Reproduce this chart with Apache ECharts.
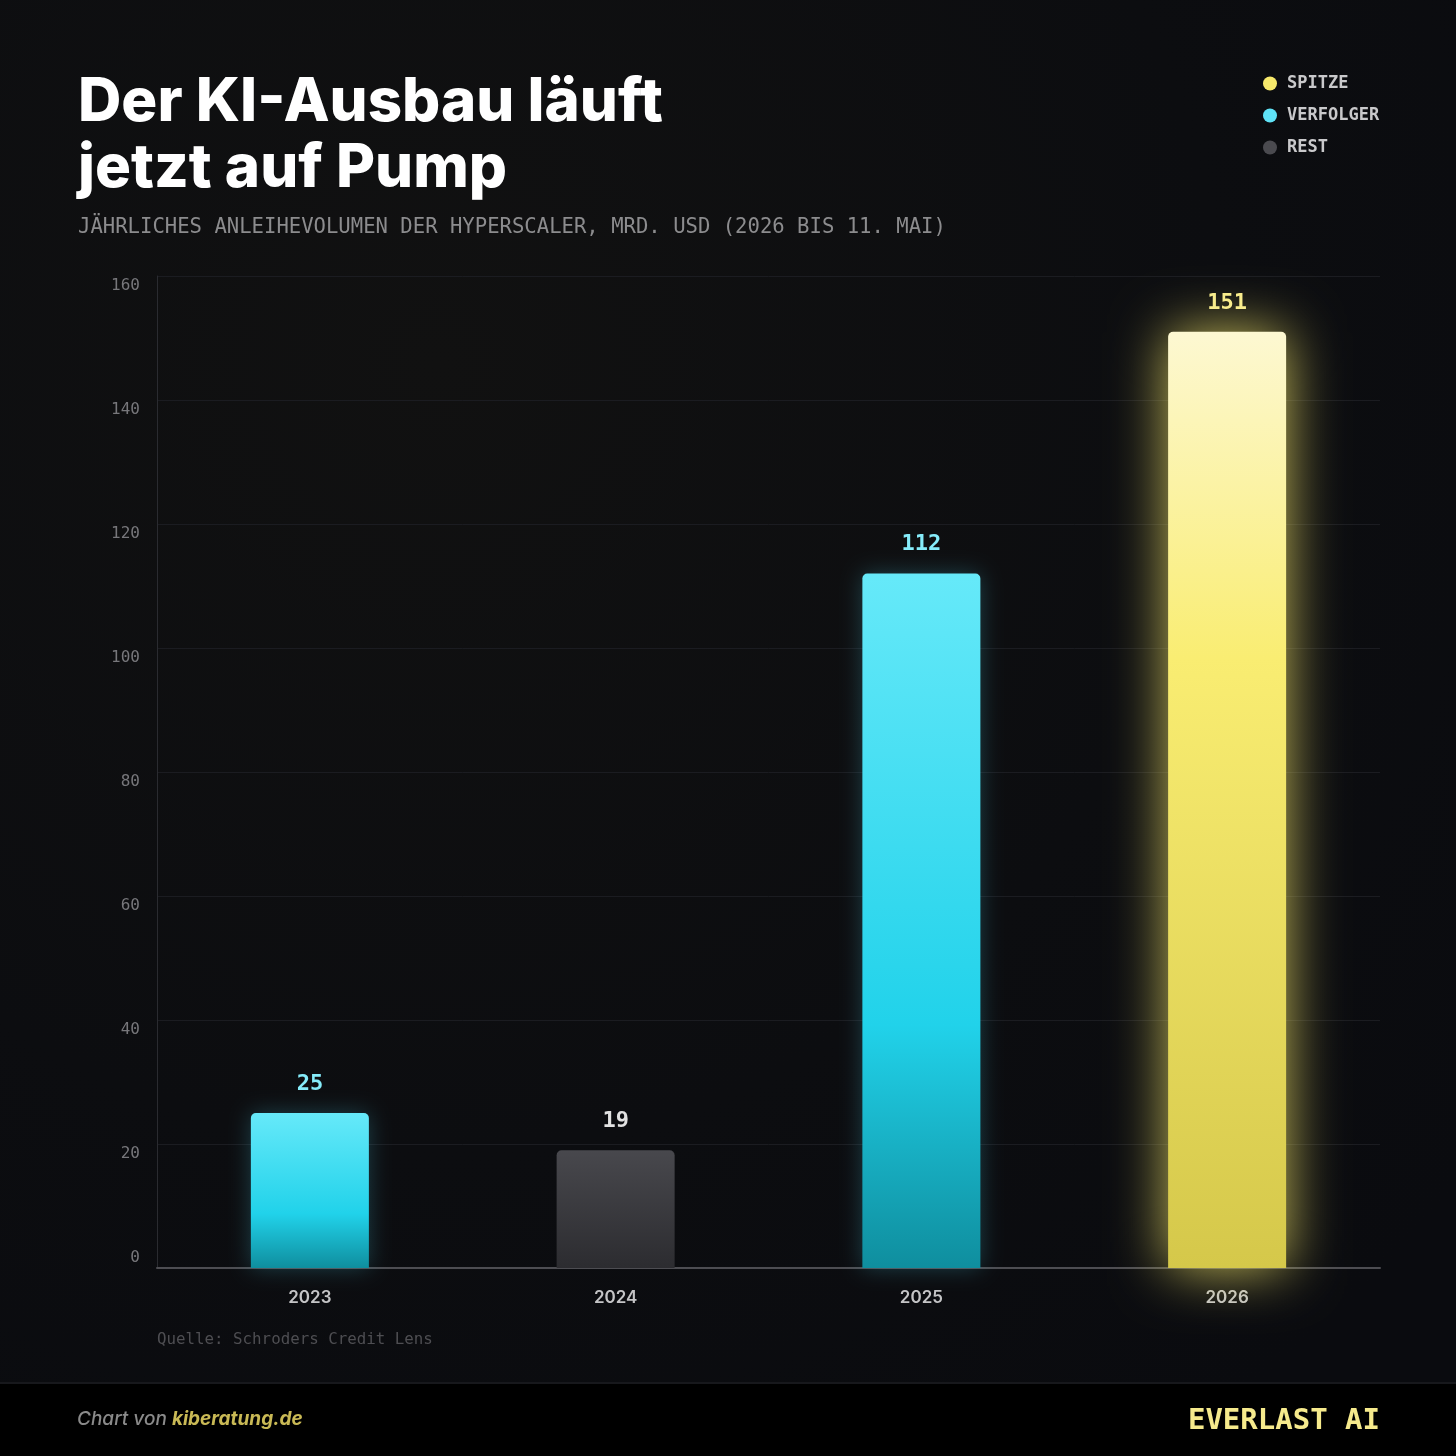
<!DOCTYPE html>
<html>
<head>
<meta charset="utf-8">
<script src="https://cdn.jsdelivr.net/npm/echarts@6/dist/echarts.min.js"></script>
<style>
  html, body { margin: 0; padding: 0; background: #0b0c10; }
  #box { width: 1456px; height: 1456px; }
</style>
</head>
<body>
<div id="box"></div>
<script>
// data
const years = ['2023', '2024', '2025', '2026'];
const values = [25, 19, 112, 151];
const groups = ['VERFOLGER', 'REST', 'VERFOLGER', 'SPITZE'];
const groupNames = ['SPITZE', 'VERFOLGER', 'REST'];
const yTicks = [0, 20, 40, 60, 80, 100, 120, 140, 160];

const mono = '"DejaVu Sans Mono", "Liberation Mono", monospace';
const sans = 'Inter, "Noto Sans", sans-serif';

const look = {
  SPITZE: {
    dot: '#f7e96b', label: '#f8ec8c',
    stops: [[0, '#fdf8d2'], [0.35, '#f9ed72'], [1, '#d5c84a']],
    glow: 'rgba(247,233,107,0.8)', blur: 55
  },
  VERFOLGER: {
    dot: '#5fe2f6', label: '#86ecfa',
    stops: [[0, '#66e9f9'], [0.65, '#21d2ea'], [1, '#0f8e9e']],
    glow: 'rgba(80,220,245,0.25)', blur: 22
  },
  REST: {
    dot: '#4a4a4f', label: '#e2e2e2',
    stops: [[0, '#48484d'], [1, '#2c2c30']],
    glow: 'rgba(0,0,0,0)', blur: 0
  }
};

const chartDom = document.getElementById('box');
const myChart = echarts.init(chartDom);

const series = groupNames.map(name => {
  const l = look[name];
  return {
    name: name,
    type: 'bar',
    barWidth: 118,
    barGap: '-100%',
    data: values.map((v, i) => groups[i] === name ? v : '-'),
    itemStyle: {
      borderRadius: [5, 5, 0, 0],
      color: new echarts.graphic.LinearGradient(0, 0, 0, 1,
        l.stops.map(s => ({ offset: s[0], color: s[1] }))),
      shadowBlur: l.blur,
      shadowColor: l.glow
    },
    label: {
      show: true,
      position: 'top',
      distance: 18,
      fontFamily: mono,
      fontWeight: 'bold',
      fontSize: 22,
      color: l.label
    }
  };
});

const option = {
  backgroundColor: {
    type: 'radial', x: 0.3, y: 0.25, r: 0.9,
    colorStops: [
      { offset: 0, color: '#111111' },
      { offset: 0.6, color: '#0c0d10' },
      { offset: 1, color: '#0a0b0f' }
    ]
  },
  animation: false,
  title: {
    left: 73,
    top: 65,
    text: 'Der KI-Ausbau läuft\njetzt auf Pump',
    textStyle: {
      fontFamily: sans,
      fontWeight: 800,
      fontSize: 60,
      lineHeight: 66,
      color: '#ffffff'
    },
    subtext: 'JÄHRLICHES ANLEIHEVOLUMEN DER HYPERSCALER, MRD. USD (2026 BIS 11. MAI)',
    subtextStyle: {
      fontFamily: mono,
      fontSize: 20.6,
      lineHeight: 22,
      color: '#8c8c8e'
    },
    itemGap: 15
  },
  legend: {
    orient: 'vertical',
    left: 1258,
    top: 70,
    icon: 'circle',
    itemWidth: 14,
    itemHeight: 14,
    itemGap: 15,
    textStyle: {
      fontFamily: mono,
      fontWeight: 'bold',
      fontSize: 17,
      color: '#c9c9cb',
      padding: [0, 0, 0, 5]
    },
    data: groupNames.map(n => ({ name: n, itemStyle: { color: look[n].dot } }))
  },
  grid: {
    left: 157,
    right: 76,
    top: 276,
    bottom: 188
  },
  xAxis: {
    type: 'category',
    data: years,
    axisLine: { lineStyle: { color: '#4d4d52', width: 2 } },
    axisTick: { show: false },
    axisLabel: {
      margin: 21,
      fontFamily: sans,
      fontWeight: 600,
      fontSize: 17,
      color: '#c4c4c6'
    }
  },
  yAxis: {
    type: 'value',
    min: yTicks[0],
    max: yTicks[yTicks.length - 1],
    interval: 20,
    axisLine: { show: true, lineStyle: { color: '#2a2b30', width: 1 } },
    axisTick: { show: false },
    axisLabel: {
      margin: 17,
      formatter: v => v === 0 ? '{z|0}' : '{n|' + v + '}',
      rich: {
        n: { fontFamily: mono, fontSize: 16, color: '#77777b', padding: [20, 0, 0, 0] },
        z: { fontFamily: mono, fontSize: 16, color: '#77777b', padding: [0, 0, 20, 0] }
      }
    },
    splitLine: { lineStyle: { color: '#1b1c21', width: 1 } }
  },
  series: series,
  graphic: [
    {
      type: 'text',
      left: 157,
      top: 1332,
      style: {
        text: 'Quelle: Schroders Credit Lens',
        font: '15.8px ' + mono,
        fill: '#4e4e52'
      }
    },
    {
      type: 'rect',
      left: 0,
      top: 1383,
      shape: { width: 1456, height: 73 },
      style: { fill: '#000000' }
    },
    {
      type: 'rect',
      left: 0,
      top: 1382,
      shape: { width: 1456, height: 2 },
      style: { fill: '#17181c' }
    },
    {
      type: 'text',
      left: 77,
      top: 1410,
      style: {
        text: '{a|Chart von }{b|kiberatung.de}',
        fill: '#8a8a8a',
        rich: {
          a: { fontFamily: sans, fontStyle: 'italic', fontWeight: 500, fontSize: 19, fill: '#8a8a8a' },
          b: { fontFamily: sans, fontStyle: 'italic', fontWeight: 'bold', fontSize: 19, fill: '#c9b955' }
        }
      }
    },
    {
      type: 'text',
      right: 76,
      top: 1407,
      style: {
        text: 'EVERLAST AI',
        font: 'bold 29px ' + mono,
        fill: '#f6ea8c'
      }
    }
  ]
};

option && myChart.setOption(option);
window.addEventListener('resize', function () {
  if (myChart) {
    myChart.resize();
  }
});
</script>
</body>
</html>
